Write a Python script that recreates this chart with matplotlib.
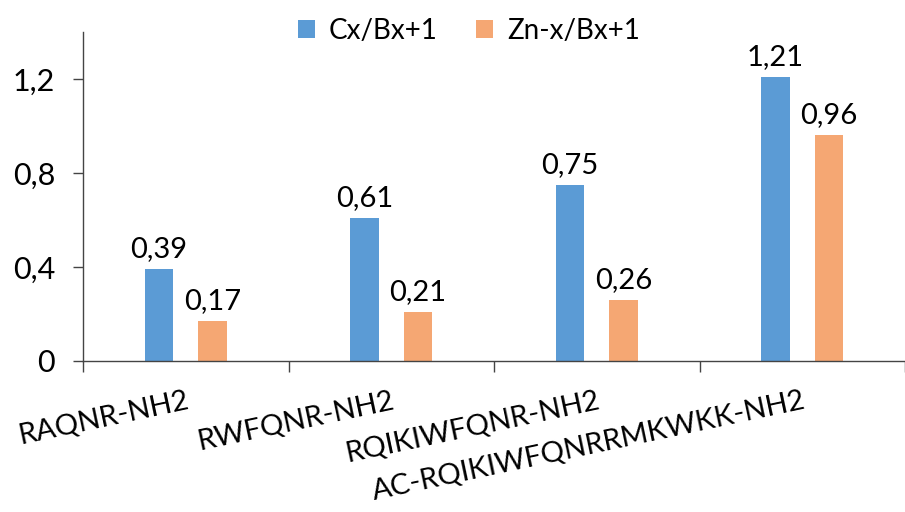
import matplotlib
matplotlib.use("Agg")
import matplotlib.pyplot as plt
import numpy as np
from matplotlib.ticker import FixedLocator, FuncFormatter

categories = ["RAQNR-NH2", "RWFQNR-NH2", "RQIKIWFQNR-NH2", "AC-RQIKIWFQNRRMKWKK-NH2"]
series_names = ["Cx/Bx+1", "Zn-x/Bx+1"]
cx_values = [0.39, 0.61, 0.75, 1.21]
zn_values = [0.17, 0.21, 0.26, 0.96]
y_ticks = [0, 0.4, 0.8, 1.2]

colors = ["#5B9BD5", "#F5A773"]

plt.rcParams["font.family"] = ["Lato", "DejaVu Sans"]

fig = plt.figure(figsize=(9.05, 5.12), dpi=100)
ax = fig.add_axes([83 / 905, 1 - 361 / 512, 1 - 83 / 905, (361 - 32) / 512])

x = np.arange(len(categories))
width = 0.14
offset = 0.13
bars = []
for vals, name, color, sign in zip([cx_values, zn_values], series_names, colors, [-1, 1]):
    b = ax.bar(x + sign * offset, vals, width=width, color=color, label=name)
    bars.append(b)
    for xi, v in zip(x + sign * offset, vals):
        ax.annotate(f"{v:.2f}".replace(".", ","), (xi, v), xytext=(0, 5),
                    textcoords="offset points", ha="center", va="bottom", fontsize=21)

ax.set_xlim(-0.5, -0.5 + (905 - 83) / 208.5)
ax.set_ylim(0, 1.4)

ax.yaxis.set_major_locator(FixedLocator(y_ticks))
ax.yaxis.set_major_formatter(FuncFormatter(lambda v, p: f"{v:g}".replace(".", ",")))
ax.tick_params(axis="y", length=7, width=1, pad=13, labelsize=22, color="#444444")

ax.set_xticks(x)
ax.set_xticklabels(categories, rotation=12, ha="right", rotation_mode="anchor", fontsize=21)
ax.tick_params(axis="x", which="major", length=0, pad=19)
ax.set_xticks(np.arange(len(categories) + 1) - 0.5, minor=True)
ax.tick_params(axis="x", which="minor", length=8, width=1, color="#444444")

for side in ["top", "right"]:
    ax.spines[side].set_visible(False)
for side in ["left", "bottom"]:
    ax.spines[side].set_color("#444444")
    ax.spines[side].set_linewidth(1)

fig.legend(handles=bars, labels=series_names, loc="center", bbox_to_anchor=(0.518, 0.94),
           ncol=2, frameon=False, fontsize=20, handlelength=0.6, handleheight=0.6,
           handletextpad=0.5, columnspacing=1.4)

fig.savefig("out.png", dpi=100)
